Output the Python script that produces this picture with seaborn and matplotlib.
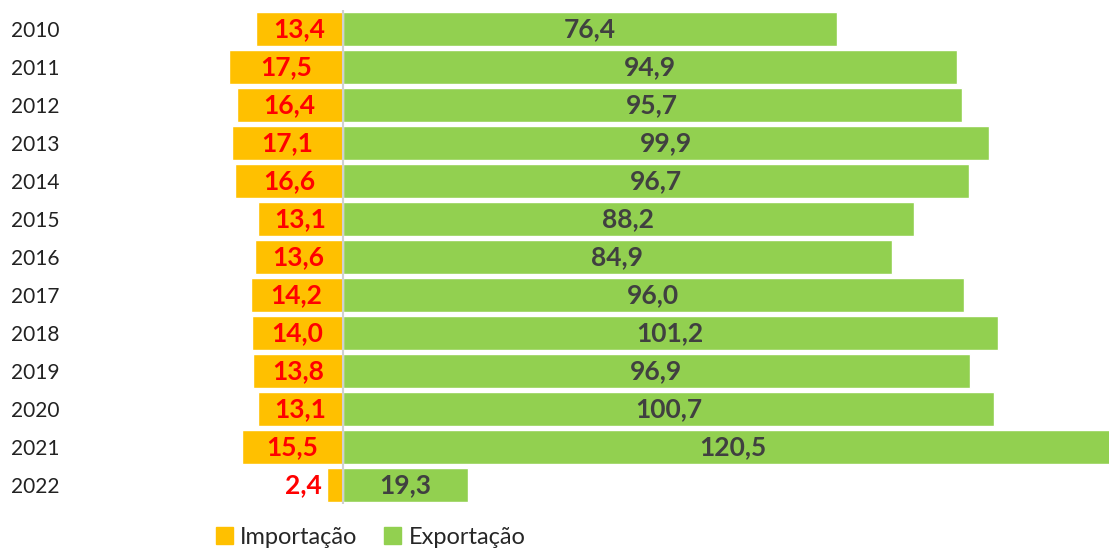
import pandas as pd
import matplotlib.pyplot as plt
import seaborn as sns
from matplotlib.patches import Patch

# dados (bilhões)
anos = ["2010", "2011", "2012", "2013", "2014", "2015", "2016",
        "2017", "2018", "2019", "2020", "2021", "2022"]
importacao = [13.4, 17.5, 16.4, 17.1, 16.6, 13.1, 13.6, 14.2, 14.0, 13.8, 13.1, 15.5, 2.4]
exportacao = [76.4, 94.9, 95.7, 99.9, 96.7, 88.2, 84.9, 96.0, 101.2, 96.9, 100.7, 120.5, 19.3]

cor_imp = "#FFC000"
cor_exp = "#92D050"


def fmt(v):
    return f"{v:.1f}".replace(".", ",")


def main():
    df = pd.DataFrame({"ano": anos, "imp": [-v for v in importacao], "exp": exportacao})

    sns.set_style("white")
    plt.rcParams["font.family"] = ["Lato", "DejaVu Sans"]

    fig = plt.figure(figsize=(11.09, 5.48), dpi=100)
    ax = fig.add_axes([0.18, 0.0805, 0.82, 0.9015])

    sns.barplot(data=df, x="imp", y="ano", orient="h", color=cor_imp,
                width=0.9, saturation=1, ax=ax)
    sns.barplot(data=df, x="exp", y="ano", orient="h", color=cor_exp,
                width=0.9, saturation=1, ax=ax)

    ax.axvline(0, color="#d0d0d0", lw=1.5, zorder=3)
    ax.set_xlim(-22.1, 118.4)
    ax.set_xticks([])
    ax.set_xlabel("")
    ax.set_ylabel("")
    sns.despine(ax=ax, left=True, bottom=True)
    ax.tick_params(axis="y", length=0, pad=101, labelsize=15, labelcolor="#222222")

    # rótulos
    for i, (vi, ve) in enumerate(zip(importacao, exportacao)):
        if vi < 5:
            ax.text(-vi - 0.9, i, fmt(vi), ha="right", va="center",
                    color="#FF0000", fontsize=19, fontweight="bold")
        else:
            ax.text(-vi / 2, i, fmt(vi), ha="center", va="center",
                    color="#FF0000", fontsize=19, fontweight="bold")
        ax.text(ve / 2, i, fmt(ve), ha="center", va="center",
                color="#404040", fontsize=19, fontweight="bold")

    handles = [Patch(color=cor_imp, label="Importação"),
               Patch(color=cor_exp, label="Exportação")]
    fig.legend(handles=handles, loc="center", bbox_to_anchor=(0.334, 0.02),
               ncol=2, frameon=False, fontsize=17, handlelength=0.75,
               handleheight=0.75, handletextpad=0.3, columnspacing=1.1)

    fig.savefig("out.png", dpi=100)


if __name__ == "__main__":
    main()
